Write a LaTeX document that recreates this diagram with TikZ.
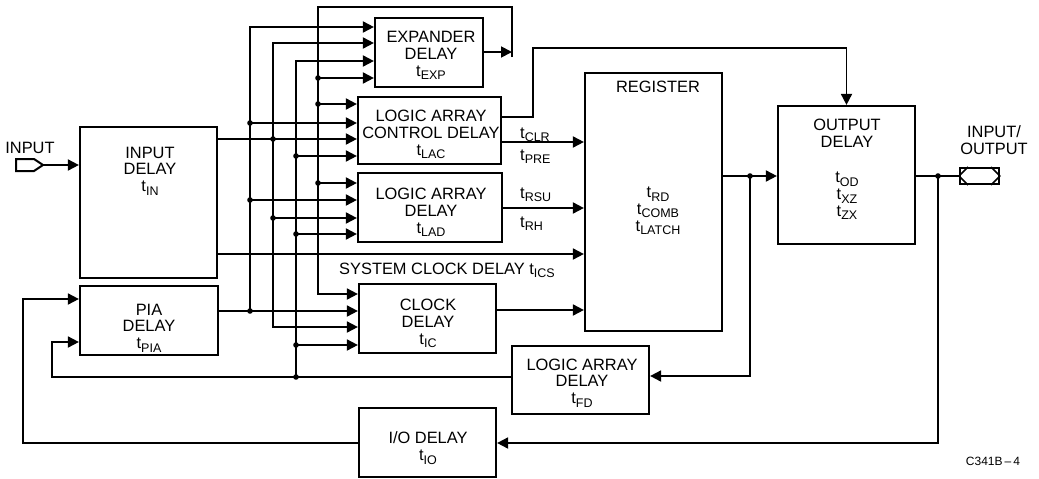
\documentclass[tikz,border=0pt]{standalone}
\usepackage{fontspec}
\setmainfont{Liberation Sans}
\usetikzlibrary{arrows.meta}
\newcommand\ts[1]{t\raisebox{-3.5pt}{\fontsize{12.5}{12.5}\selectfont #1}}
\begin{document}
\begin{tikzpicture}[x=1pt,y=-1pt,
  every node/.style={font=\fontsize{16.4}{16.8}\selectfont},
  box/.style={draw,line width=2.2pt,inner sep=0pt},
  txt/.style={align=center,inner sep=0pt},
  wire/.style={line width=1.8pt},
  arr/.style={wire,-{Triangle[length=11pt,width=11pt]}},
  jdot/.style={fill=black}]
\useasboundingbox (0,0) rectangle (1039,479);

% ---------- boxes ----------
\node[box,minimum width=137pt,minimum height=151pt] (indel) at (148.5,202.5) {};
\node[txt] (indeltxt) at (150,171) {INPUT\\DELAY\\\ts{IN}};
\node[box,minimum width=138pt,minimum height=69pt] (pia) at (149,320.5) {};
\node[txt] (piatxt) at (149,328) {PIA\\DELAY\\\ts{PIA}};
\node[box,minimum width=108pt,minimum height=69pt] (exp) at (429,52.5) {};
\node[txt] (exptxt) at (431,55.5) {EXPANDER\\DELAY\\\ts{EXP}};
\node[box,minimum width=143pt,minimum height=67pt] (lac) at (429.5,130.5) {};
\node[txt] (lactxt) at (431,134.5) {LOGIC ARRAY\\CONTROL DELAY\\\ts{LAC}};
\node[box,minimum width=144pt,minimum height=69pt] (lad) at (430,207.5) {};
\node[txt] (ladtxt) at (431,212.5) {LOGIC ARRAY\\DELAY\\\ts{LAD}};
\node[box,minimum width=137pt,minimum height=69pt] (clk) at (427.5,318.5) {};
\node[txt] (clktxt) at (428,323.5) {CLOCK\\DELAY\\\ts{IC}};
\node[box,minimum width=137pt,minimum height=258pt] (reg) at (653.5,202) {};
\node[txt] (regtitle) at (658,87) {REGISTER};
\node[txt] (regt) at (658,211) {\ts{RD}\\\ts{COMB}\\\ts{LATCH}};
\node[box,minimum width=137pt,minimum height=68pt] (fd) at (580.5,380) {};
\node[txt] (fdtxt) at (582,383) {LOGIC ARRAY\\DELAY\\\ts{FD}};
\node[box,minimum width=137pt,minimum height=69pt] (io) at (427.5,442.5) {};
\node[txt] (iotxt) at (428,448) {I/O DELAY\\\ts{IO}};
\node[box,minimum width=137pt,minimum height=138pt] (outdel) at (846.5,175) {};
\node[txt] (odtitle) at (847,133) {OUTPUT\\DELAY};
\node[txt] (odt) at (847,196) {\ts{OD}\\\ts{XZ}\\\ts{ZX}};

% ---------- pads and labels ----------
\node[txt] (inlabel) at (30,148) {INPUT};
\coordinate (inp1) at (16,159);
\coordinate (inp2) at (34,159);
\coordinate (inptip) at (43,165);
\coordinate (inp4) at (34,171);
\coordinate (inp5) at (16,171);
\draw[line width=2pt,line join=miter] (inp1) -- (inp2) -- (inptip) -- (inp4) -- (inp5) -- cycle;
\draw[arr] (inptip) -- (inptip -| indel.west);

\node[draw,line width=2pt,minimum width=39pt,minimum height=16pt,inner sep=0pt] (iopad) at (979.5,176) {};
\draw[line width=1.6pt] (iopad.west) -- ([xshift=9pt]iopad.north west) (iopad.west) -- ([xshift=9pt]iopad.south west);
\draw[line width=1.6pt] (iopad.east) -- ([xshift=-9pt]iopad.north east) (iopad.east) -- ([xshift=-9pt]iopad.south east);
\node[txt] (iolabel) at (994,140) {INPUT/\\OUTPUT};

\node[anchor=base west,inner sep=0pt] (sysclk) at (339,274) {SYSTEM CLOCK DELAY \ts{ICS}};
\node[anchor=base west,inner sep=0pt] (tclr) at (520,138) {\ts{CLR}};
\node[anchor=base west,inner sep=0pt] (tpre) at (520,160) {\ts{PRE}};
\node[anchor=base west,inner sep=0pt] (trsu) at (520,198) {\ts{RSU}};
\node[anchor=base west,inner sep=0pt] (trh) at (520,227) {\ts{RH}};
\node[txt,font=\fontsize{12}{12}\selectfont] (code) at (993,461) {C341B\,--\,4};

% ---------- bus 1 (x=250, from PIA) ----------
\coordinate (b1bot) at (250,311);
\coordinate (b1top) at (250,27);
\coordinate (b1lac) at (250,123);
\coordinate (b1lad) at (250,200);
\draw[arr] (pia.east |- b1bot) -- (b1bot -| clk.west);
\draw[arr] (b1bot) -- (b1top) -- (b1top -| exp.west);
\draw[arr] (b1lac) -- (b1lac -| lac.west);
\draw[arr] (b1lad) -- (b1lad -| lad.west);
\foreach \p in {b1bot,b1lac,b1lad} \fill[jdot] (\p) circle (2.8pt);

% ---------- bus 2 (x=273, from INPUT DELAY) ----------
\coordinate (b2in) at (273,139);
\coordinate (b2top) at (273,43);
\coordinate (b2bot) at (273,327);
\coordinate (b2lad) at (273,218);
\draw[arr] (indel.east |- b2in) -- (b2in -| lac.west);
\draw[arr] (b2in) -- (b2top) -- (b2top -| exp.west);
\draw[arr] (b2in) -- (b2bot) -- (b2bot -| clk.west);
\draw[arr] (b2lad) -- (b2lad -| lad.west);
\foreach \p in {b2in,b2lad} \fill[jdot] (\p) circle (2.8pt);

% ---------- bus 3 (x=296, from LOGIC ARRAY DELAY tFD) ----------
\coordinate (b3bot) at (296,377);
\coordinate (b3top) at (296,61);
\coordinate (b3lac) at (296,156);
\coordinate (b3lad) at (296,234);
\coordinate (b3clk) at (296,345);
\coordinate (fdcorner) at (52,377);
\coordinate (piain2) at (52,342);
\draw[arr] (fd.west |- b3bot) -- (fdcorner) -- (piain2) -- (piain2 -| pia.west);
\draw[arr] (b3bot) -- (b3top) -- (b3top -| exp.west);
\draw[arr] (b3lac) -- (b3lac -| lac.west);
\draw[arr] (b3lad) -- (b3lad -| lad.west);
\draw[arr] (b3clk) -- (b3clk -| clk.west);
\foreach \p in {b3bot,b3lac,b3lad,b3clk} \fill[jdot] (\p) circle (2.8pt);

% ---------- bus 4 (x=318, expander feedback) ----------
\coordinate (fbmid) at (512,52);
\coordinate (fbbot) at (512,57);
\coordinate (fbtop) at (512,7);
\coordinate (b4top) at (318,7);
\coordinate (b4bot) at (318,294);
\coordinate (b4exp) at (318,78);
\coordinate (b4lac) at (318,104);
\coordinate (b4lad) at (318,183);
\draw[arr] (exp.east |- fbmid) -- (fbmid);
\draw[arr] (fbbot) -- (fbtop) -- (b4top) -- (b4bot) -- (b4bot -| clk.west);
\draw[arr] (b4exp) -- (b4exp -| exp.west);
\draw[arr] (b4lac) -- (b4lac -| lac.west);
\draw[arr] (b4lad) -- (b4lad -| lad.west);
\foreach \p in {b4exp,b4lac,b4lad} \fill[jdot] (\p) circle (2.8pt);

% ---------- into register ----------
\coordinate (lacup) at (533,117);
\coordinate (topc) at (533,48);
\draw[arr] (lac.east |- lacup) -- (lacup) -- (topc) -- (topc -| outdel.north) -- (outdel.north);
\coordinate (clrline) at (540,142);
\coordinate (rsuline) at (540,208);
\coordinate (sysline) at (540,254);
\coordinate (clkline) at (540,310);
\draw[arr] (lac.east |- clrline) -- (clrline -| reg.west);
\draw[arr] (lad.east |- rsuline) -- (rsuline -| reg.west);
\draw[arr] (indel.east |- sysline) -- (sysline -| reg.west);
\draw[arr] (clk.east |- clkline) -- (clkline -| reg.west);

% ---------- register output ----------
\coordinate (regout) at (750,176);
\coordinate (fdin) at (750,376);
\draw[arr] (reg.east |- regout) -- (regout -| outdel.west);
\draw[arr] (regout) -- (fdin) -- (fdin -| fd.east);
\fill[jdot] (regout) circle (2.8pt);

% ---------- output and I/O feedback ----------
\coordinate (iojn) at (938,176);
\coordinate (iobot) at (938,443);
\coordinate (iol) at (23,443);
\coordinate (piain1) at (23,299);
\draw[wire] (outdel.east |- iojn) -- (iopad.west);
\draw[arr] (iojn) -- (iobot) -- (iobot -| io.east);
\draw[arr] (io.west |- iol) -- (iol) -- (piain1) -- (piain1 -| pia.west);
\fill[jdot] (iojn) circle (2.8pt);
\end{tikzpicture}
\end{document}
